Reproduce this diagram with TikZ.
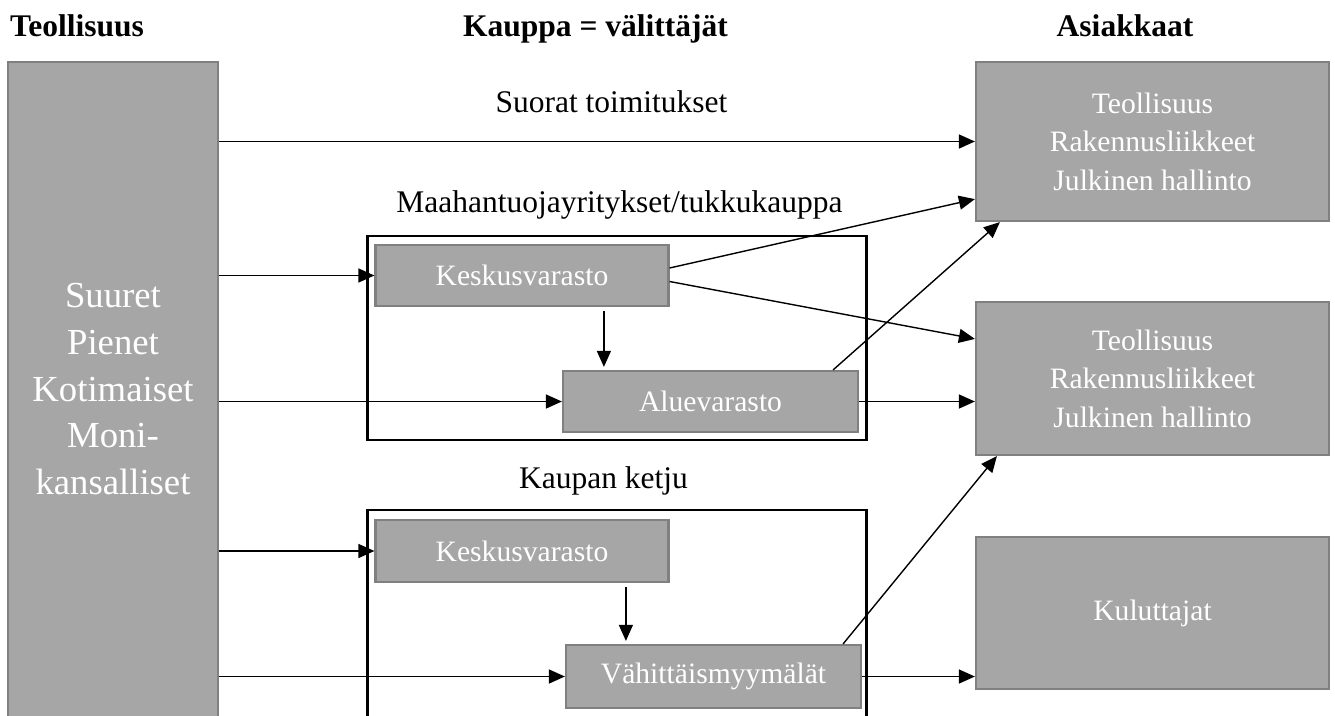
\documentclass[tikz,border=0pt]{standalone}
\usepackage{fontspec}
\setmainfont{Liberation Serif}
\usetikzlibrary{arrows.meta,calc}
\definecolor{boxfill}{HTML}{A6A6A6}
\definecolor{boxline}{HTML}{808080}

\begin{document}
\begin{tikzpicture}[x=1pt,y=-1pt,
  box/.style={draw=boxline,line width=2.2pt,fill=boxfill,text=white,inner sep=0pt,
    align=center,font=\fontsize{29.6}{38.4}\selectfont},
  bigtext/.style={text=white,inner sep=0pt,align=center,
    font=\fontsize{36.7}{46.8}\selectfont},
  frame/.style={draw=black,line width=2.8pt,inner sep=0pt},
  head/.style={font=\fontsize{31.5}{36}\selectfont\bfseries,inner sep=0pt},
  lbl/.style={font=\fontsize{31.5}{36}\selectfont,inner sep=0pt},
  arr/.style={-{Triangle[length=16pt,width=14pt]},line width=1.4pt}]

\useasboundingbox (0,0) rectangle (1335,715);
\clip (0,0) rectangle (1335,715);

% column headings
\node[head,anchor=base west] (h1) at (10,36.7) {Teollisuus};
\node[head,anchor=base] (h2) at (595.5,36.7) {Kauppa = välittäjät};
\node[head,anchor=base] (h3) at (1125,36.7) {Asiakkaat};

% manufacturers
\node[box,minimum width=210,minimum height=690] (ind) at (113,407) {};
\node[bigtext] (indtext) at (113,389.1)
  {Suuret\\Pienet\\Kotimaiset\\Moni-\\kansalliset};

% customers
\node[box,minimum width=353,minimum height=159] (c1) at (1152.5,141.5)
  {Teollisuus\\Rakennusliikkeet\\Julkinen hallinto};
\node[box,minimum width=353,minimum height=153] (c2) at (1152.5,378.5)
  {Teollisuus\\Rakennusliikkeet\\Julkinen hallinto};
\node[box,minimum width=353,minimum height=152] (c3) at (1152.5,613)
  {Kuluttajat};

% intermediaries: importers / wholesale
\node[lbl,anchor=base] (l1) at (611.5,112.7) {Suorat toimitukset};
\node[lbl,anchor=base] (l2) at (619.5,212.7) {Maahantuojayritykset/tukkukauppa};
\node[frame,minimum width=499,minimum height=204] (g1) at (617,338) {};
\node[box,minimum width=293,minimum height=61] (k1) at (522,275.5) {Keskusvarasto};
\node[box,minimum width=295,minimum height=61] (av) at (710.5,401.5) {Aluevarasto};

% intermediaries: retail chain
\node[lbl,anchor=base] (l3) at (603.5,488) {Kaupan ketju};
\node[frame,minimum width=499,minimum height=250] (g2) at (617,635) {};
\node[box,minimum width=293,minimum height=62] (k2) at (522,551) {Keskusvarasto};
\node[box,minimum width=295,minimum height=63] (vm) at (713.5,676.5) {Vähittäismyymälät};

% arrow end points on box edges
\coordinate (a1) at ($(av.north west)+(42,-3)$);
\coordinate (a2) at ($(vm.north west)+(61,-3)$);

% deliveries from manufacturers
\draw[arr] (ind.east |- c1.west) -- (c1.west);
\draw[arr] (ind.east |- k1.west) -- (k1.west);
\draw[arr] (ind.east |- av.west) -- (av.west);
\draw[arr] (ind.east |- k2.west) -- (k2.west);
\draw[arr] (ind.east |- vm.west) -- (vm.west);

% internal flows
\draw[arr] ($(k1.south -| a1)+(0,4)$) -- (a1);
\draw[arr] ($(k2.south -| a2)+(0,4)$) -- (a2);

% flows to customers
\draw[arr] ($(k1.east)+(0,-7.5)$) -- ($(c1.south west)+(0,-23)$);
\draw[arr] ($(k1.east)+(0,6)$) -- ($(c2.north west)+(0,38)$);
\draw[arr] ($(av.north east)+(-26,0)$) -- ($(c1.south west)+(25,0)$);
\draw[arr] (av.east) -- (av.east -| c2.west);
\draw[arr] ($(vm.north east)+(-19,0)$) -- ($(c2.south west)+(22,0)$);
\draw[arr] (vm.east) -- (vm.east -| c3.west);
\end{tikzpicture}
\end{document}
